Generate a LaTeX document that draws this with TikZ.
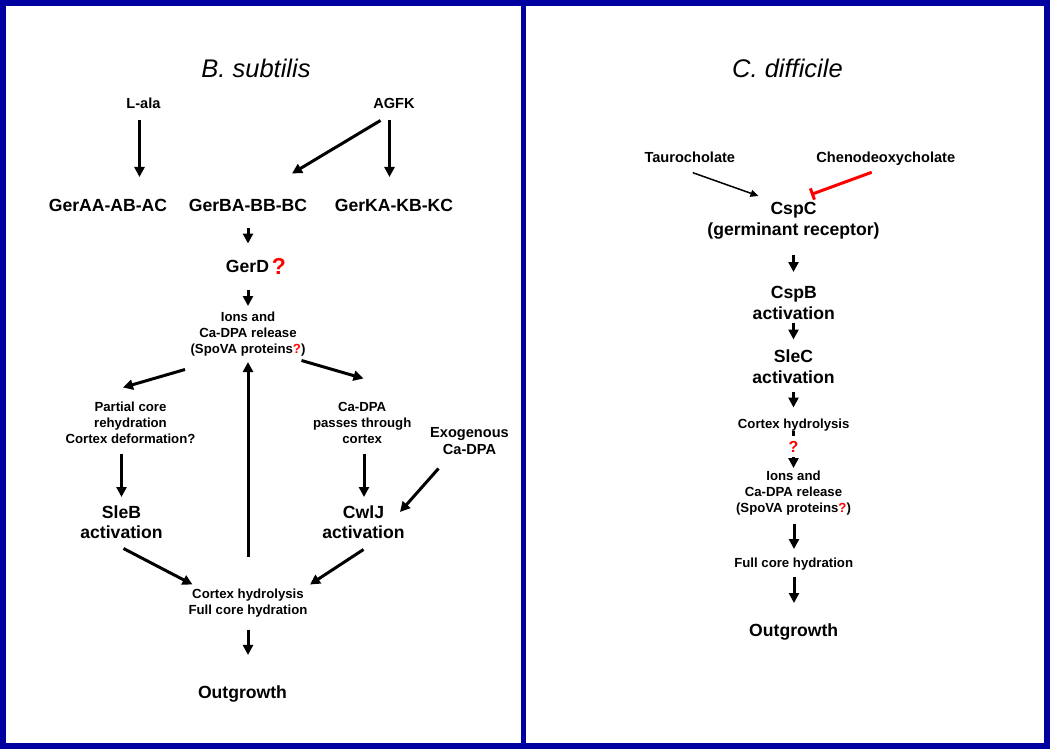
\documentclass[tikz,border=0pt]{standalone}
\usepackage{fontspec}
\setmainfont{Liberation Sans}
\usetikzlibrary{arrows.meta,calc}
\definecolor{frameblue}{RGB}{0,0,160}
\definecolor{qred}{RGB}{255,0,0}
\begin{document}
\begin{tikzpicture}[x=1pt,y=-1pt,
  big/.style={font=\fontsize{17.6pt}{20.5pt}\selectfont\bfseries, align=center, inner sep=0pt},
  mid/.style={font=\fontsize{14.6pt}{17pt}\selectfont\bfseries, align=center, inner sep=0pt},
  sml/.style={font=\fontsize{13.2pt}{16pt}\selectfont\bfseries, align=center, inner sep=0pt},
  ttl/.style={font=\fontsize{25.5pt}{30pt}\selectfont\itshape, inner sep=0pt},
  arr/.style={line width=3pt, -{Triangle[width=10pt,length=10pt]}},
  thinarr/.style={line width=1.5pt, -{Triangle[width=7pt,length=8pt]}},
  inhib/.style={line width=3pt, qred, -{Bar[width=12pt]}},
  qmark/.style={text=qred, inner sep=0pt}
]
\useasboundingbox (0,0) rectangle (1050,749);
\fill[white] (0,0) rectangle (1050,749);
\draw[frameblue, line width=6pt] (3,3) rectangle (1047,746);
\draw[frameblue, line width=5.5pt] (523.5,3) -- (523.5,746);

% ---------- B. subtilis ----------
\node[ttl] (tB) at (256,68) {B. subtilis};
\node[mid] (lala) at (143.5,103) {L-ala};
\node[mid] (agfk) at (394,103) {AGFK};
\node[big] (gerA) at (108,205.5) {GerAA-AB-AC};
\node[big] (gerB) at (248,205.5) {GerBA-BB-BC};
\node[big] (gerK) at (394,205.5) {GerKA-KB-KC};
\node[big] (gerD) at (247.5,266) {GerD};
\node[qmark, font=\fontsize{23pt}{26pt}\selectfont\bfseries] (gerDq) at (279,266.5) {?};
\node[sml] (ions) at (248,334.4) {Ions and\\Ca-DPA release\\(SpoVA proteins{\color{qred}?})};
\node[sml] (partial) at (130.5,423) {Partial core\\rehydration\\Cortex deformation?};
\node[sml] (capass) at (362.2,423) {Ca-DPA\\passes through\\cortex};
\node[mid] (exo) at (469.5,441.5) {Exogenous\\Ca-DPA};
\node[big] (sleb) at (121.5,522) {SleB\\activation};
\node[big] (cwlj) at (363.5,522) {CwlJ\\activation};
\node[sml] (cortex) at (248,603.4) {Cortex hydrolysis\\Full core hydration};
\node[big] (outL) at (242.5,694.4) {Outgrowth};

\draw[arr] ($(lala)+(-4,17)$) -- ($(gerA)+(31.5,-28.5)$);
\draw[arr] ($(agfk)+(-13.5,17.5)$) -- ($(gerB)+(44,-32)$);
\draw[arr] ($(agfk)+(-4.5,17)$) -- ($(gerK)+(-4.5,-28.5)$);
\draw[arr] ($(gerB)+(0,22.5)$) -- ($(gerD)+(0.5,-22.5)$);
\draw[arr] ($(gerD)+(0.5,23.5)$) -- ($(ions)+(0,-28.4)$);
\draw[arr] ($(ions)+(-63,35.1)$) -- ($(partial)+(-7.5,-35.5)$);
\draw[arr] ($(ions)+(53.5,26.1)$) -- ($(capass)+(1.3,-44.5)$);
\draw[arr] ($(cortex)+(0,-46.4)$) -- ($(ions)+(0,27.6)$);
\draw[arr] ($(partial)+(-9,30.5)$) -- ($(sleb)+(0,-25)$);
\draw[arr] ($(capass)+(1.8,30.5)$) -- ($(cwlj)+(0.5,-25)$);
\draw[arr] ($(exo)+(-31,27)$) -- ($(cwlj)+(36.5,-10)$);
\draw[arr] ($(sleb)+(2,26.5)$) -- ($(cortex)+(-55.5,-18.9)$);
\draw[arr] ($(cwlj)+(0,27.5)$) -- ($(cortex)+(62,-18.9)$);
\draw[arr] ($(cortex)+(0,26.1)$) -- ($(outL)+(5.5,-39.45)$);

% ---------- C. difficile ----------
\node[ttl] (tC) at (787.5,68) {C. difficile};
\node[mid] (tauro) at (689.8,157) {Taurocholate};
\node[mid] (cheno) at (885.8,158.45) {Chenodeoxycholate};
\node[big] (cspc) at (793.5,220.85) {CspC\\(germinant receptor)};
\node[big] (cspb) at (793.8,303) {CspB\\activation};
\node[big] (slec) at (793.5,366.7) {SleC\\activation};
\node[sml] (cortexR) at (793.7,424.6) {Cortex hydrolysis};
\node[sml] (ionsR) at (793.5,492.9) {Ions and\\Ca-DPA release\\(SpoVA proteins{\color{qred}?})};
\node[sml] (fullR) at (793.7,564.3) {Full core hydration};
\node[big] (outR) at (793.7,631.75) {Outgrowth};

\draw[thinarr] ($(tauro)+(3,15.7)$) -- ($(cspc)+(-35,-24.85)$);
\draw[inhib] ($(cheno)+(-14.1,13.85)$) -- ($(cspc)+(17.5,-26.35)$);
\draw[arr] ($(cspc)+(0,34.15)$) -- ($(cspb)+(-0.3,-31)$);
\draw[arr] ($(cspb)+(-0.3,19.7)$) -- ($(slec)+(0,-27.2)$);
\draw[arr] ($(slec)+(0,24.8)$) -- ($(cortexR)+(-0.2,-17.1)$);
\draw[arr] ($(cortexR)+(-0.2,6.4)$) -- ($(ionsR)+(0,-24.9)$);
\node[qmark, font=\fontsize{16pt}{19pt}\selectfont\bfseries, fill=white, inner xsep=2pt, inner ysep=4.5pt] (qR) at (793.5,446.5) {?};
\draw[arr] ($(ionsR)+(0.5,30.6)$) -- ($(fullR)+(0.3,-15.3)$);
\draw[arr] ($(fullR)+(0.3,12.7)$) -- ($(outR)+(0.3,-28.75)$);
\end{tikzpicture}
\end{document}
